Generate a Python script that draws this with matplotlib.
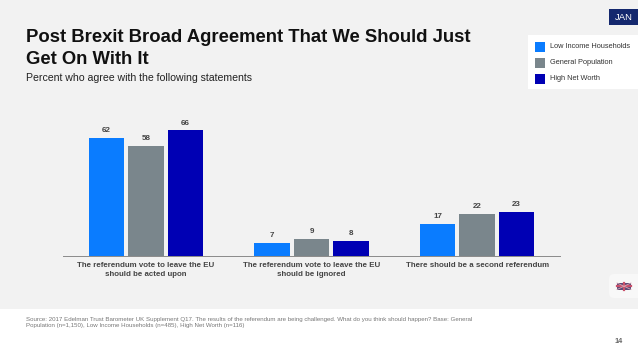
import matplotlib
matplotlib.use("Agg")
import matplotlib.pyplot as plt
from matplotlib.patches import Rectangle, FancyBboxPatch
import numpy as np

categories = ["The referendum vote to leave the EU\nshould be acted upon",
              "The referendum vote to leave the EU\nshould be ignored",
              "There should be a second referendum"]
series_names = ["Low Income Households", "General Population", "High Net Worth"]
low_income = [62, 7, 17]
general_pop = [58, 9, 22]
high_net = [66, 8, 23]
colors = ["#0A7CFF", "#7A868C", "#0000B4"]

W, H = 638, 359
plt.rcParams["font.family"] = ["Liberation Sans", "DejaVu Sans"]
fig = plt.figure(figsize=(W/100, H/100), dpi=100, facecolor="white")

bg = fig.add_axes([0, 0, 1, 1], zorder=0)
bg.set_xlim(0, W); bg.set_ylim(H, 0); bg.axis("off")
bg.add_patch(Rectangle((0, 0), W, 309, fc="#F2F2F2", ec="none"))
bg.add_patch(Rectangle((609, 9), 29, 16, fc="#14286E", ec="none"))
bg.text(623.5, 17.5, "JAN", color="white", fontsize=6.8, ha="center", va="center")
bg.text(26, 38, "Post Brexit Broad Agreement That We Should Just", fontsize=13.35, fontweight="bold", color="#111111", va="center")
bg.text(26, 60, "Get On With It", fontsize=13.35, fontweight="bold", color="#111111", va="center")
bg.text(26, 78, "Percent who agree with the following statements", fontsize=7.55, color="#222222", va="center")

# legend
bg.add_patch(Rectangle((528, 35), 110, 54, fc="white", ec="none"))
for y, c, name in zip([47, 63, 79], colors, series_names):
    bg.add_patch(Rectangle((535, y-5), 10, 10, fc=c, ec="none"))
    bg.text(550, y, name, fontsize=5.35, color="#333333", va="center")

# footer
bg.text(26, 319, "Source: 2017 Edelman Trust Barometer UK Supplement Q17. The results of the referendum are being challenged. What do you think should happen? Base: General",
        fontsize=4.4, color="#777777", va="center")
bg.text(26, 326, "Population (n=1,150), Low Income Households (n=485), High Net Worth (n=116)",
        fontsize=4.4, color="#777777", va="center")
bg.text(619, 341.5, "14", fontsize=5.3, color="#666666", ha="center", va="center", fontweight="bold")

# flag chip
bg.add_patch(FancyBboxPatch((609, 274), 35, 24, boxstyle="round,pad=0,rounding_size=5", fc="#F8F8F8", ec="none"))
bg.add_patch(Rectangle((617, 283), 14, 6.5, fc="#5A4A78", ec="none"))
bg.plot([617, 631], [286.2, 286.2], color="#C9506A", lw=1.6)
bg.plot([624, 624], [283, 289.5], color="#C9506A", lw=1.6)
bg.plot([617, 631], [283, 289.5], color="#D8A8B4", lw=0.6)
bg.plot([617, 631], [289.5, 283], color="#D8A8B4", lw=0.6)

# chart
ax = fig.add_axes([63/W, 1-256/H, (560-63)/W, 140/H], zorder=1)
ax.patch.set_alpha(0)
x = np.arange(len(categories))
step = 39.5/165.5
bw = 35.5/165.5
for i, (vals, c) in enumerate(zip([low_income, general_pop, high_net], colors)):
    off = (i-1)*step
    ax.bar(x+off, vals, width=bw, color=c, linewidth=0)
    for xi, v in zip(x, vals):
        ax.annotate(str(v), (xi+off, v), xytext=(0, 5.2), textcoords="offset points",
                    ha="center", va="center", fontsize=5.8, fontweight="bold", color="#444444")
ax.set_xlim(-0.5, 2.5)
ax.set_ylim(0, 140/1.905)
ax.set_yticks([])
ax.set_xticks(x)
ax.set_xticklabels(categories, fontsize=5.7, fontweight="bold", color="#444444", linespacing=1.45)
ax.tick_params(axis="x", length=0, pad=4.5)
for s in ["top", "left", "right"]:
    ax.spines[s].set_visible(False)
ax.spines["bottom"].set_color("#8A8A8A")
ax.spines["bottom"].set_linewidth(0.7)

fig.savefig("out.png", dpi=100, facecolor="white")
